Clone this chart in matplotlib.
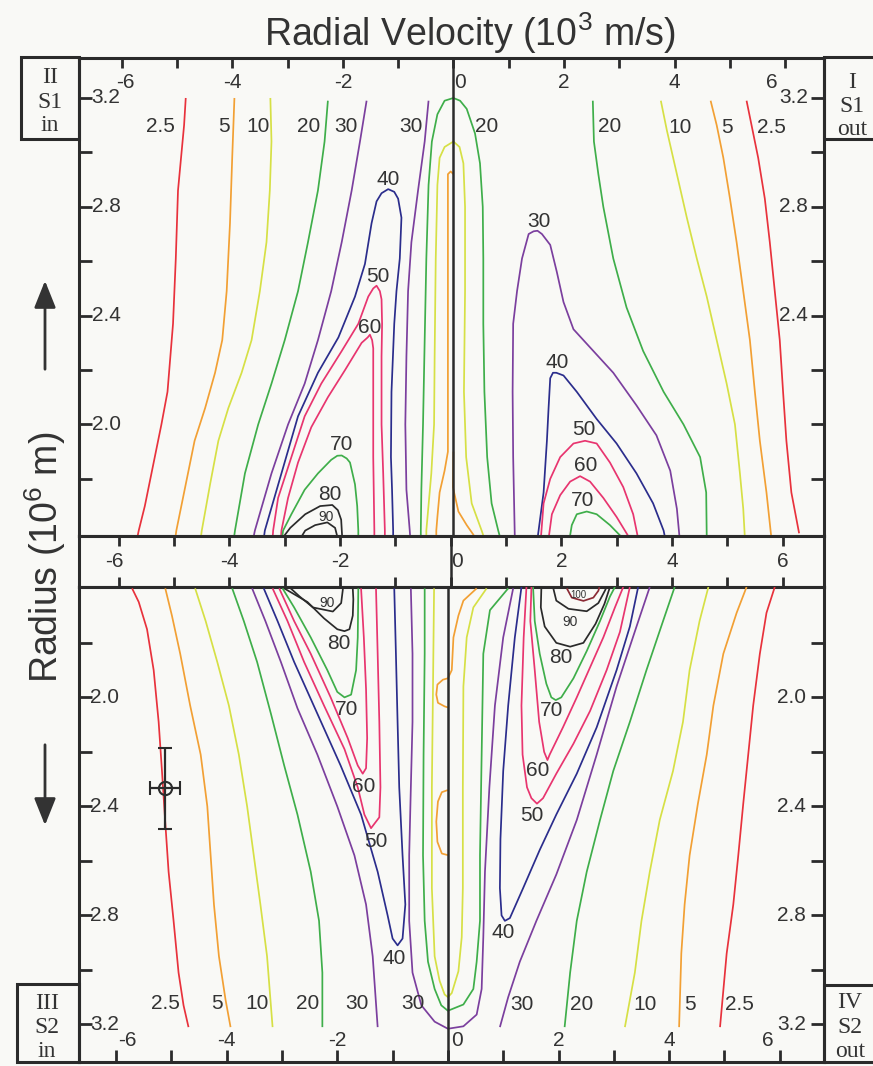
import numpy as np
import matplotlib
matplotlib.use('Agg')
import matplotlib.pyplot as plt
from matplotlib.patches import Rectangle, FancyArrowPatch

plt.rcParams['font.family'] = ['Liberation Sans', 'DejaVu Sans']
plt.rcParams['mathtext.fontset'] = 'custom'
plt.rcParams['mathtext.rm'] = 'Liberation Sans'

# Contour lines: (radial velocity [1e3 m/s], radius [1e6 m])
# ---- S1 (upper panel), inbound half
s1_in_2p5 = [(-4.84, 3.20), (-4.87, 3.10), (-4.98, 2.86), (-5.02, 2.61), (-5.07, 2.37), (-5.17, 2.12),
             (-5.28, 2.00), (-5.46, 1.82), (-5.58, 1.70), (-5.69, 1.61), (-5.72, 1.58)]
s1_in_5 = [(-3.96, 3.20), (-4.00, 2.98), (-4.04, 2.74), (-4.10, 2.49), (-4.18, 2.31), (-4.31, 2.19),
           (-4.49, 2.06), (-4.68, 1.94), (-4.80, 1.82), (-4.92, 1.70), (-5.01, 1.61), (-5.03, 1.58)]
s1_in_10 = [(-3.31, 3.20), (-3.29, 3.04), (-3.32, 2.86), (-3.38, 2.67), (-3.50, 2.49), (-3.65, 2.31),
            (-3.83, 2.19), (-4.07, 2.06), (-4.25, 1.94), (-4.40, 1.78), (-4.55, 1.61), (-4.57, 1.58)]
s1_in_20 = [(-2.27, 3.19), (-2.33, 3.04), (-2.45, 2.86), (-2.63, 2.67), (-2.81, 2.49), (-3.05, 2.31),
            (-3.29, 2.15), (-3.53, 2.00), (-3.77, 1.82), (-3.95, 1.61), (-3.97, 1.58)]
s1_in_30 = [(-1.57, 3.19), (-1.69, 3.04), (-1.84, 2.86), (-2.02, 2.67), (-2.21, 2.49), (-2.45, 2.31),
            (-2.69, 2.15), (-2.99, 2.00), (-3.29, 1.82), (-3.59, 1.61), (-3.62, 1.58)]
s1_in_40 = [(-3.43, 1.58), (-3.41, 1.61), (-3.11, 1.82), (-2.81, 2.03), (-2.45, 2.19), (-2.08, 2.32),
            (-1.78, 2.47), (-1.60, 2.59), (-1.48, 2.74), (-1.39, 2.82), (-1.30, 2.85), (-1.18, 2.865),
            (-1.07, 2.855), (-1.00, 2.83), (-0.94, 2.76), (-0.97, 2.61), (-1.03, 2.49), (-1.07, 2.37),
            (-1.12, 2.12), (-1.13, 1.88), (-1.11, 1.76), (-1.09, 1.61), (-1.09, 1.58)]
s1_in_50 = [(-3.27, 1.58), (-3.26, 1.61), (-3.17, 1.73), (-2.93, 1.88), (-2.69, 2.03), (-2.39, 2.15),
            (-2.02, 2.27), (-1.72, 2.37), (-1.54, 2.47), (-1.45, 2.50), (-1.39, 2.51), (-1.33, 2.49),
            (-1.30, 2.46), (-1.29, 2.37), (-1.30, 2.25), (-1.30, 2.00), (-1.27, 1.82), (-1.24, 1.61),
            (-1.24, 1.58)]
s1_in_60 = [(-3.12, 1.58), (-3.11, 1.61), (-2.99, 1.73), (-2.81, 1.86), (-2.57, 1.99), (-2.27, 2.10),
            (-1.96, 2.20), (-1.66, 2.30), (-1.55, 2.32), (-1.51, 2.33), (-1.47, 2.31), (-1.45, 2.28),
            (-1.45, 2.12), (-1.45, 1.88), (-1.43, 1.61), (-1.43, 1.58)]
s1_in_70 = [(-3.10, 1.58), (-3.08, 1.61), (-2.93, 1.67), (-2.69, 1.76), (-2.45, 1.82), (-2.21, 1.87),
            (-2.10, 1.885), (-2.02, 1.886), (-1.93, 1.875), (-1.87, 1.86), (-1.78, 1.78), (-1.74, 1.70),
            (-1.72, 1.61), (-1.72, 1.58)]
s1_in_80 = [(-3.10, 1.58), (-2.95, 1.62), (-2.68, 1.67), (-2.41, 1.70), (-2.19, 1.704), (-2.09, 1.685),
            (-2.03, 1.65), (-2.01, 1.58)]
s1_in_90 = [(-2.77, 1.58), (-2.68, 1.61), (-2.50, 1.63), (-2.28, 1.64), (-2.14, 1.62), (-2.09, 1.58)]
s1_in_30b = [(-0.45, 3.19), (-0.52, 3.04), (-0.64, 2.86), (-0.76, 2.67), (-0.82, 2.49), (-0.85, 2.25),
             (-0.87, 2.00), (-0.85, 1.76), (-0.79, 1.61), (-0.78, 1.58)]
# ---- S1, around zero velocity
s1_mid_20 = [(-0.59, 1.58), (-0.59, 1.61), (-0.58, 1.76), (-0.55, 2.00), (-0.52, 2.31), (-0.49, 2.61),
             (-0.45, 2.88), (-0.39, 3.04), (-0.29, 3.14), (-0.16, 3.19), (0.00, 3.20), (0.12, 3.19),
             (0.24, 3.16), (0.39, 3.07), (0.48, 2.96), (0.53, 2.80), (0.54, 2.61), (0.54, 2.37),
             (0.56, 2.12), (0.61, 1.88), (0.69, 1.71), (0.81, 1.61), (0.85, 1.58)]
s1_mid_10 = [(-0.49, 1.58), (-0.49, 1.61), (-0.46, 1.68), (-0.40, 1.82), (-0.35, 2.00), (-0.34, 2.25),
             (-0.32, 2.61), (-0.29, 2.88), (-0.25, 2.98), (-0.16, 3.02), (0.00, 3.04), (0.11, 3.02),
             (0.18, 2.96), (0.21, 2.80), (0.21, 2.49), (0.19, 2.12), (0.23, 1.88), (0.33, 1.71),
             (0.51, 1.61), (0.56, 1.58)]
s1_mid_5a = [(-0.31, 1.58), (-0.31, 1.61), (-0.29, 1.66), (-0.25, 1.75), (-0.16, 1.83), (-0.10, 1.90),
             (-0.10, 2.92), (-0.05, 2.93), (0.00, 2.92)]
s1_mid_5b = [(0.00, 1.90), (-0.01, 1.77), (0.09, 1.68), (0.24, 1.63), (0.36, 1.595), (0.40, 1.58)]
# ---- S1, outbound half
s1_out_30 = [(1.11, 1.58), (1.08, 1.88), (1.07, 2.12), (1.08, 2.37), (1.15, 2.49), (1.24, 2.61),
             (1.36, 2.70), (1.45, 2.71), (1.52, 2.712), (1.60, 2.70), (1.75, 2.66), (1.87, 2.56),
             (1.99, 2.45), (2.17, 2.35), (2.53, 2.27), (2.89, 2.19), (3.31, 2.07), (3.67, 1.96),
             (3.92, 1.83), (4.04, 1.69), (4.09, 1.58)]
s1_out_40 = [(1.52, 1.58), (1.63, 1.75), (1.69, 1.94), (1.72, 2.06), (1.75, 2.17), (1.80, 2.19),
             (1.86, 2.19), (1.99, 2.18), (2.23, 2.12), (2.59, 2.02), (2.95, 1.93), (3.31, 1.82),
             (3.61, 1.71), (3.80, 1.61), (3.83, 1.58)]
s1_out_50 = [(1.58, 1.58), (1.63, 1.71), (1.75, 1.80), (1.93, 1.88), (2.17, 1.93), (2.38, 1.94),
             (2.59, 1.93), (2.83, 1.86), (3.07, 1.77), (3.25, 1.67), (3.34, 1.58)]
s1_out_60 = [(1.72, 1.58), (1.78, 1.67), (1.93, 1.74), (2.11, 1.79), (2.29, 1.81), (2.47, 1.79),
             (2.71, 1.73), (2.95, 1.66), (3.19, 1.58)]
s1_out_70 = [(2.10, 1.58), (2.14, 1.63), (2.23, 1.67), (2.41, 1.68), (2.59, 1.67), (2.83, 1.63),
             (3.07, 1.58)]
s1_out_20 = [(2.52, 3.19), (2.54, 3.04), (2.62, 2.92), (2.71, 2.80), (2.89, 2.61), (3.13, 2.43),
             (3.43, 2.27), (3.80, 2.12), (4.16, 2.00), (4.46, 1.88), (4.57, 1.75), (4.58, 1.58)]
s1_out_10 = [(3.75, 3.19), (3.86, 3.08), (4.04, 2.92), (4.22, 2.76), (4.40, 2.61), (4.58, 2.47),
             (4.76, 2.31), (4.94, 2.15), (5.09, 2.00), (5.18, 1.82), (5.24, 1.69), (5.27, 1.58)]
s1_out_5 = [(4.65, 3.19), (4.76, 3.10), (4.88, 2.98), (5.00, 2.83), (5.12, 2.67), (5.24, 2.49),
            (5.36, 2.31), (5.45, 2.12), (5.54, 1.94), (5.66, 1.75), (5.75, 1.58)]
s1_out_2p5 = [(5.30, 3.19), (5.39, 3.10), (5.51, 2.98), (5.63, 2.83), (5.72, 2.67), (5.81, 2.49),
              (5.90, 2.31), (5.96, 2.12), (6.02, 1.94), (6.11, 1.75), (6.25, 1.60)]

# ---- S2 (lower panel), inbound half
s2_in_2p5 = [(-5.71, 1.60), (-5.59, 1.65), (-5.44, 1.75), (-5.32, 1.90), (-5.23, 2.09), (-5.17, 2.27),
             (-5.11, 2.46), (-5.05, 2.64), (-4.96, 2.82), (-4.87, 3.01), (-4.78, 3.13), (-4.69, 3.21)]
s2_in_5 = [(-5.11, 1.60), (-4.99, 1.70), (-4.84, 1.84), (-4.66, 2.03), (-4.47, 2.21), (-4.35, 2.40),
           (-4.29, 2.58), (-4.23, 2.76), (-4.14, 2.95), (-4.02, 3.11), (-3.93, 3.21)]
s2_in_10 = [(-4.57, 1.60), (-4.38, 1.72), (-4.17, 1.87), (-3.96, 2.03), (-3.78, 2.21), (-3.63, 2.40),
            (-3.51, 2.58), (-3.39, 2.76), (-3.27, 2.95), (-3.17, 3.21)]
s2_in_20 = [(-3.90, 1.60), (-3.69, 1.72), (-3.45, 1.87), (-3.20, 2.06), (-2.96, 2.25), (-2.72, 2.43),
            (-2.48, 2.64), (-2.33, 2.82), (-2.27, 3.01), (-2.27, 3.21)]
s2_in_30 = [(-3.54, 1.60), (-3.30, 1.72), (-3.02, 1.87), (-2.72, 2.04), (-2.36, 2.21), (-2.00, 2.40),
            (-1.69, 2.58), (-1.48, 2.76), (-1.36, 2.95), (-1.27, 3.21)]
s2_in_40 = [(-3.33, 1.60), (-3.08, 1.72), (-2.78, 1.87), (-2.36, 2.06), (-1.94, 2.25), (-1.57, 2.43),
            (-1.27, 2.64), (-1.09, 2.80), (-1.00, 2.885), (-0.91, 2.91), (-0.82, 2.885), (-0.77, 2.76),
            (-0.82, 2.58), (-0.88, 2.33), (-0.91, 2.09), (-0.94, 1.84), (-0.97, 1.60)]
s2_in_50 = [(-3.17, 1.60), (-2.90, 1.72), (-2.60, 1.87), (-2.24, 2.03), (-1.87, 2.19), (-1.63, 2.33),
            (-1.51, 2.43), (-1.39, 2.48), (-1.24, 2.44), (-1.22, 2.33), (-1.24, 2.09), (-1.27, 1.84),
            (-1.30, 1.60)]
s2_in_60 = [(-3.05, 1.60), (-2.78, 1.72), (-2.48, 1.84), (-2.12, 2.00), (-1.81, 2.15), (-1.63, 2.25),
            (-1.54, 2.28), (-1.48, 2.26), (-1.46, 2.15), (-1.48, 1.97), (-1.52, 1.78), (-1.57, 1.60)]
s2_in_70 = [(-2.99, 1.60), (-2.78, 1.67), (-2.48, 1.78), (-2.18, 1.90), (-2.00, 1.98), (-1.87, 2.00),
            (-1.75, 1.99), (-1.66, 1.90), (-1.63, 1.78), (-1.62, 1.60)]
s2_in_80 = [(-2.96, 1.60), (-2.54, 1.65), (-2.24, 1.71), (-2.00, 1.75), (-1.87, 1.757), (-1.78, 1.75),
            (-1.72, 1.70), (-1.71, 1.64), (-1.72, 1.60)]
s2_in_90 = [(-2.87, 1.595), (-2.68, 1.63), (-2.44, 1.67), (-2.08, 1.685), (-1.93, 1.654), (-1.90, 1.605),
            (-1.90, 1.595)]
# ---- S2, around zero velocity
s2_mid_30 = [(-0.67, 1.60), (-0.64, 1.84), (-0.64, 2.09), (-0.67, 2.33), (-0.70, 2.58), (-0.70, 2.82),
             (-0.64, 3.01), (-0.48, 3.13), (-0.24, 3.19), (0.00, 3.216), (0.28, 3.207), (0.52, 3.164),
             (0.61, 3.07), (0.64, 2.88), (0.67, 2.64), (0.75, 2.33), (0.85, 2.03), (1.00, 1.78),
             (1.18, 1.60)]
s2_mid_20 = [(-0.42, 1.60), (-0.42, 1.84), (-0.44, 2.21), (-0.45, 2.58), (-0.42, 2.82), (-0.36, 2.97),
             (-0.24, 3.07), (-0.12, 3.13), (0.00, 3.15), (0.28, 3.127), (0.46, 3.07), (0.52, 2.97),
             (0.58, 2.82), (0.58, 2.58), (0.61, 2.21), (0.64, 1.84), (0.76, 1.68), (1.09, 1.60)]
s2_mid_10 = [(-0.25, 1.60), (-0.27, 1.97), (-0.29, 2.33), (-0.29, 2.70), (-0.24, 2.95), (-0.15, 3.04),
             (-0.06, 3.09), (0.00, 3.10), (0.07, 3.085), (0.19, 3.005), (0.25, 2.88), (0.27, 2.70),
             (0.27, 2.33), (0.28, 1.96), (0.34, 1.78), (0.46, 1.67), (0.70, 1.60)]
s2_mid_5a = [(0.52, 1.60), (0.28, 1.645), (0.19, 1.70), (0.10, 1.78), (0.07, 1.90), (0.00, 1.93),
             (-0.09, 1.935), (-0.19, 1.953), (-0.21, 1.99), (-0.18, 2.02), (-0.06, 2.033), (0.00, 2.037)]
s2_mid_5b = [(0.00, 2.34), (-0.11, 2.348), (-0.18, 2.382), (-0.21, 2.456), (-0.19, 2.53), (-0.11, 2.573),
             (0.00, 2.579)]
# ---- S2, outbound half
s2_out_100 = [(2.15, 1.60), (2.24, 1.634), (2.45, 1.646), (2.63, 1.634), (2.72, 1.609), (2.74, 1.595)]
s2_out_90 = [(1.90, 1.595), (1.96, 1.645), (2.18, 1.675), (2.51, 1.684), (2.72, 1.654), (2.84, 1.608),
             (2.87, 1.595)]
s2_out_80 = [(1.69, 1.595), (1.68, 1.67), (1.75, 1.74), (1.96, 1.80), (2.21, 1.814), (2.45, 1.80),
             (2.67, 1.73), (2.83, 1.657), (2.93, 1.595)]
s2_out_70 = [(1.54, 1.595), (1.57, 1.72), (1.66, 1.84), (1.78, 1.95), (1.87, 2.00), (1.95, 2.01),
             (2.05, 2.00), (2.27, 1.93), (2.51, 1.83), (2.75, 1.72), (2.93, 1.63), (3.02, 1.595)]
s2_out_60 = [(1.51, 1.595), (1.49, 1.72), (1.57, 1.90), (1.65, 2.09), (1.74, 2.20), (1.80, 2.23),
             (1.84, 2.21), (2.08, 2.11), (2.33, 2.00), (2.57, 1.89), (2.81, 1.78), (3.02, 1.67),
             (3.17, 1.595)]
s2_out_50 = [(1.42, 1.595), (1.37, 1.78), (1.33, 2.03), (1.35, 2.21), (1.43, 2.33), (1.51, 2.37),
             (1.61, 2.39), (1.72, 2.37), (1.96, 2.28), (2.27, 2.17), (2.57, 2.05), (2.87, 1.90),
             (3.11, 1.76), (3.29, 1.595)]
s2_out_40 = [(1.33, 1.595), (1.21, 1.78), (1.09, 2.03), (1.00, 2.27), (0.95, 2.52), (0.94, 2.70),
             (0.97, 2.80), (1.03, 2.82), (1.12, 2.81), (1.36, 2.70), (1.66, 2.56), (1.96, 2.43),
             (2.33, 2.28), (2.69, 2.11), (3.05, 1.90), (3.29, 1.74), (3.44, 1.595)]
s2_out_30 = [(3.65, 1.595), (3.41, 1.74), (3.05, 1.96), (2.69, 2.21), (2.33, 2.45), (1.96, 2.65),
             (1.60, 2.82), (1.30, 2.97), (1.09, 3.10), (0.94, 3.21)]
s2_out_20 = [(4.10, 1.595), (3.89, 1.72), (3.59, 1.90), (3.29, 2.09), (2.99, 2.27), (2.75, 2.45),
             (2.51, 2.64), (2.33, 2.82), (2.21, 3.01), (2.11, 3.21)]
s2_out_10 = [(4.71, 1.595), (4.55, 1.72), (4.37, 1.90), (4.25, 2.09), (4.07, 2.27), (3.83, 2.45),
             (3.65, 2.64), (3.50, 2.82), (3.38, 3.01), (3.20, 3.21)]
s2_out_5 = [(5.40, 1.595), (5.22, 1.69), (4.98, 1.84), (4.80, 2.03), (4.68, 2.21), (4.52, 2.39),
            (4.37, 2.58), (4.28, 2.76), (4.22, 2.94), (4.18, 3.21)]
s2_out_2p5 = [(5.91, 1.595), (5.76, 1.69), (5.64, 1.84), (5.52, 2.03), (5.43, 2.21), (5.34, 2.39),
              (5.25, 2.58), (5.16, 2.76), (5.04, 2.94), (4.92, 3.21)]

# contour level labels
s1_label_text = ['2.5', '5', '10', '20', '30', '30', '40', '50', '60', '70', '80', '90',
                 '20', '20', '10', '5', '2.5', '30', '40', '50', '60', '70']
s1_label_x = [-5.29, -4.15, -3.53, -2.62, -1.94, -0.76, -1.18, -1.36, -1.51, -2.03, -2.24, -2.30,
              0.60, 2.82, 4.10, 4.94, 5.75, 1.55, 1.88, 2.35, 2.40, 2.34]
s1_label_y = [3.096, 3.096, 3.096, 3.096, 3.096, 3.096, 2.899, 2.544, 2.356, 1.926, 1.742, 1.660,
              3.094, 3.094, 3.091, 3.091, 3.091, 2.747, 2.229, 1.980, 1.849, 1.719]
s2_label_text = ['90', '80', '70', '60', '50', '40', '2.5', '5', '10', '20', '30', '30',
                 '100', '90', '80', '70', '60', '50', '40', '30', '20', '10', '5', '2.5']
s2_label_x = [-2.19, -1.97, -1.84, -1.52, -1.30, -0.98, -5.11, -4.18, -3.45, -2.54, -1.64, -0.64,
              2.36, 2.21, 2.05, 1.87, 1.63, 1.51, 1.00, 1.33, 2.42, 3.56, 4.37, 5.28]
s2_label_y = [1.653, 1.804, 2.045, 2.327, 2.530, 2.959, 3.124, 3.124, 3.124, 3.124, 3.124, 3.124,
              1.623, 1.724, 1.853, 2.049, 2.270, 2.435, 2.864, 3.127, 3.127, 3.127, 3.127, 3.127]

# error bar marker (lower left)
err_x = [-5.12]
err_y = [2.334]
err_dx = [0.27]
err_dy = [0.15]

# axis ticks
vel_ticks = list(range(-6, 7))
vel_labels = [-6, -4, -2, 0, 2, 4, 6]
rad_ticks = [1.8, 2.0, 2.2, 2.4, 2.6, 2.8, 3.0, 3.2]
rad_labels = [2.0, 2.4, 2.8, 3.2]

# ---- styling
bg = '#f9f9f6'
ink = '#2b2b2b'
level_colors = {'2.5': '#e8323c', '5': '#f2a034', '10': '#d6e045', '20': '#3fae4a',
                '30': '#7b3f9e', '40': '#2b2d8c', '50': '#e8356f', '60': '#e8356f',
                '70': '#3fae4a', '80': '#2a2a2a', '90': '#2a2a2a', '100': '#8b2b35'}
label_size = {'90': 10, '100': 7}

s1_lines = [(s1_in_2p5, '2.5'), (s1_in_5, '5'), (s1_in_10, '10'), (s1_in_20, '20'),
            (s1_in_30, '30'), (s1_in_40, '40'), (s1_in_50, '50'), (s1_in_60, '60'),
            (s1_in_70, '70'), (s1_in_80, '80'), (s1_in_90, '90'), (s1_in_30b, '30'),
            (s1_mid_20, '20'), (s1_mid_10, '10'), (s1_mid_5a, '5'), (s1_mid_5b, '5'),
            (s1_out_30, '30'), (s1_out_40, '40'), (s1_out_50, '50'), (s1_out_60, '60'),
            (s1_out_70, '70'), (s1_out_20, '20'), (s1_out_10, '10'), (s1_out_5, '5'),
            (s1_out_2p5, '2.5')]
s2_lines = [(s2_in_2p5, '2.5'), (s2_in_5, '5'), (s2_in_10, '10'), (s2_in_20, '20'),
            (s2_in_30, '30'), (s2_in_40, '40'), (s2_in_50, '50'), (s2_in_60, '60'),
            (s2_in_70, '70'), (s2_in_80, '80'), (s2_in_90, '90'),
            (s2_mid_30, '30'), (s2_mid_20, '20'), (s2_mid_10, '10'), (s2_mid_5a, '5'),
            (s2_mid_5b, '5'),
            (s2_out_100, '100'), (s2_out_90, '90'), (s2_out_80, '80'), (s2_out_70, '70'),
            (s2_out_60, '60'), (s2_out_50, '50'), (s2_out_40, '40'), (s2_out_30, '30'),
            (s2_out_20, '20'), (s2_out_10, '10'), (s2_out_5, '5'), (s2_out_2p5, '2.5')]

W, H = 873, 1066
fig = plt.figure(figsize=(W / 100, H / 100), dpi=100)
fig.patch.set_facecolor(bg)

x0, x1 = 79, 824
ax_top = fig.add_axes([x0 / W, 1 - 536 / H, (x1 - x0) / W, (536 - 58) / H])
ax_mid = fig.add_axes([x0 / W, 1 - 587 / H, (x1 - x0) / W, (587 - 536) / H])
ax_bot = fig.add_axes([x0 / W, 1 - 1062 / H, (x1 - x0) / W, (1062 - 587) / H])

ax_top.set_xlim(-6.77, 6.70)
ax_mid.set_xlim(-6.72, 6.75)
ax_bot.set_xlim(-6.67, 6.80)
ax_top.set_ylim(1.590, 3.347)
ax_bot.set_ylim(3.338, 1.595)
ax_mid.set_ylim(0, 1)

for ax in (ax_top, ax_mid, ax_bot):
    ax.set_facecolor(bg)
    for sp in ax.spines.values():
        sp.set_linewidth(2.2)
        sp.set_color(ink)
    ax.set_xticks(vel_ticks)
    ax.tick_params(labelleft=False, labelright=False, labeltop=False, labelbottom=False,
                   direction='in', color=ink, width=2.0)
    ax.axvline(0, color=ink, lw=1.8, zorder=5)

ax_top.tick_params(axis='x', top=True, bottom=False, length=7.5)
ax_bot.tick_params(axis='x', top=False, bottom=True, length=8.5)
ax_mid.tick_params(axis='x', top=True, bottom=True, length=7.5)
ax_mid.set_yticks([])
for ax in (ax_top, ax_bot):
    ax.set_yticks(rad_ticks)
    ax.tick_params(axis='y', left=True, right=True, length=9.5)

# contour lines
for ax, lines in ((ax_top, s1_lines), (ax_bot, s2_lines)):
    for pts, lev in lines:
        xs, ys = zip(*pts)
        ax.plot(xs, ys, color=level_colors[lev], lw=1.25, solid_joinstyle='round',
                solid_capstyle='butt', zorder=3)

for ax, txt, lx, ly in ((ax_top, s1_label_text, s1_label_x, s1_label_y),
                        (ax_bot, s2_label_text, s2_label_x, s2_label_y)):
    for t, xx, yy in zip(txt, lx, ly):
        ax.text(xx, yy, t, fontsize=label_size.get(t, 15), color='#333333',
                ha='center', va='center', zorder=6)

# velocity tick labels (inside the panels)
lab_shift_top = {-6: 0.07, 0: 0.12, 6: -0.24}
lab_shift_mid = {-6: -0.08, 0: 0.11}
lab_shift_bot = {-6: 0.21, 0: 0.16, 6: -0.21}
for v in vel_labels:
    ax_top.text(v + lab_shift_top.get(v, 0), 0.948, f'{v}', transform=ax_top.get_xaxis_transform(),
                ha='center', va='center', fontsize=15, color='#333333')
    ax_mid.text(v + lab_shift_mid.get(v, 0), 0.5, f'{v}', transform=ax_mid.get_xaxis_transform(),
                ha='center', va='center', fontsize=15, color='#333333')
    ax_bot.text(v + lab_shift_bot.get(v, 0), 0.046, f'{v}', transform=ax_bot.get_xaxis_transform(),
                ha='center', va='center', fontsize=15, color='#333333')

# radius tick labels (inside the panels)
for r in rad_labels:
    ax_top.text(0.017, r, f'{r:.1f}', transform=ax_top.get_yaxis_transform(),
                ha='left', va='center', fontsize=15, color='#333333')
    if r >= 2.4:
        ax_top.text(0.9785, r, f'{r:.1f}', transform=ax_top.get_yaxis_transform(),
                    ha='right', va='center', fontsize=15, color='#333333')
    ax_bot.text(0.015, r, f'{r:.1f}', transform=ax_bot.get_yaxis_transform(),
                ha='left', va='center', fontsize=15, color='#333333')
    ax_bot.text(0.976, r, f'{r:.1f}', transform=ax_bot.get_yaxis_transform(),
                ha='right', va='center', fontsize=15, color='#333333')

# error bar
ax_bot.errorbar(err_x, err_y, xerr=err_dx, yerr=err_dy, fmt='o', ms=9.5, mfc='none',
                mec=ink, mew=1.5, ecolor=ink, elinewidth=1.6, capsize=5, capthick=1.6, zorder=7)

# titles
fig.text(470 / W, 1 - 33 / H, 'Radial Velocity (10$^3$ m/s)', ha='center', va='center',
         fontsize=27, color='#333333')
fig.text(45 / W, 1 - 557 / H, 'Radius (10$^6$ m)', ha='center', va='center', rotation=90,
         fontsize=27, color='#333333')
for ya, yb in ((372, 278), (742, 828)):
    fig.add_artist(FancyArrowPatch((45 / W, 1 - ya / H), (45 / W, 1 - yb / H),
                                   transform=fig.transFigure,
                                   arrowstyle='-|>,head_length=0.75,head_width=0.3',
                                   mutation_scale=22, lw=2.0, color='#333333'))

# quadrant boxes
boxes = [((21, 57), (79, 139), ['II', 'S1', 'in'], [83, 108, 131], 50),
         ((824, 57), (880, 139), ['I', 'S1', 'out'], [88, 112, 135], 852),
         ((17, 984), (79, 1062), ['III', 'S2', 'in'], [1009, 1033, 1057], 47),
         ((824, 985), (880, 1062), ['IV', 'S2', 'out'], [1008, 1033, 1057], 850)]
for (bx0, by0), (bx1, by1), words, bases, cx in boxes:
    fig.add_artist(Rectangle((bx0 / W, 1 - by1 / H), (bx1 - bx0) / W, (by1 - by0) / H,
                             transform=fig.transFigure, fill=False, lw=2.2, ec=ink))
    for w, b in zip(words, bases):
        fig.text(cx / W, 1 - b / H, w, ha='center', va='baseline', fontsize=17,
                 family='Liberation Serif', color='#333333')

fig.savefig('out.png', dpi=100, facecolor=bg)
